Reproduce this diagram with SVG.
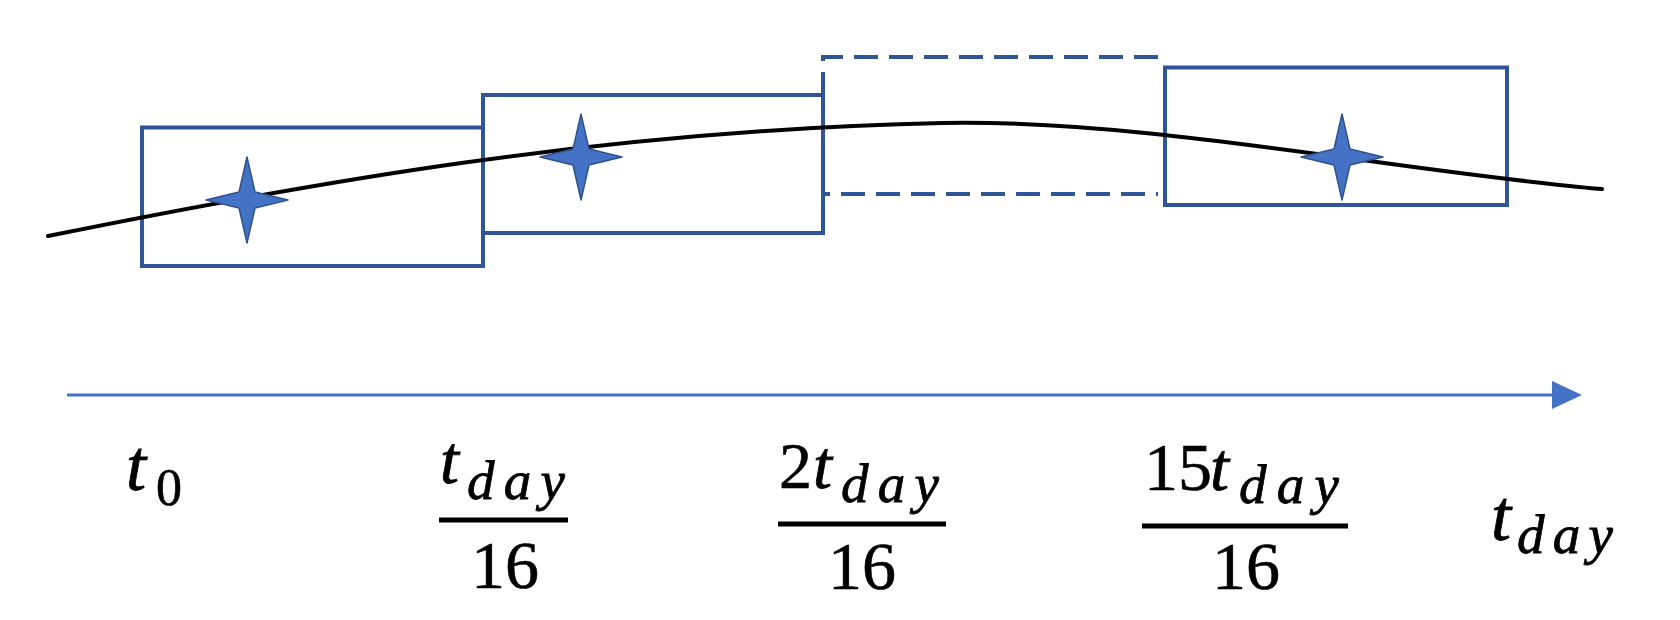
<svg xmlns="http://www.w3.org/2000/svg" width="1680" height="620" viewBox="0 0 1680 620">
  <style>
    .box { fill: none; stroke: #2F5597; stroke-width: 4; }
    .dash { fill: none; stroke: #2F5597; stroke-width: 4; stroke-dasharray: 24 11; }
    .curve { fill: none; stroke: #000000; stroke-width: 4; stroke-linecap: round; }
    .star { fill: #4472C4; stroke: #2F528F; stroke-width: 1.5; stroke-linejoin: round; }
    .axis { stroke: #4472C4; stroke-width: 3; fill: none; }
    .it { font-family: "Liberation Serif", "DejaVu Serif", serif; font-style: italic; fill: #000; stroke: #000; stroke-width: 0.8; }
    .num { font-family: "Liberation Serif", "DejaVu Serif", serif; fill: #000; stroke: #000; stroke-width: 0.6; }
    .bar { fill: #000; }
  </style>
  <defs>
    <path id="star4" d="M0,-43 L8,-8 L41,0 L8,8 L0,43 L-8,8 L-41,0 L-8,-8 Z"/>
  </defs>
  <rect width="1680" height="620" fill="#ffffff"/>

  <g id="box1"><rect class="box" x="142" y="127.5" width="341" height="138.5"/></g>
  <g id="box2"><rect class="box" x="483" y="95" width="340" height="138"/></g>
  <g id="box3"><path class="dash" d="M1158,57 H823 V194 H1158"/></g>
  <g id="box4"><rect class="box" x="1165" y="67.5" width="342" height="137.5"/></g>

  <g id="curve"><path class="curve" d="M48,236 C300,185 600,130 943,123 C1150,119 1400,172 1602,189"/></g>

  <g id="star1"><use href="#star4" class="star" transform="translate(247,200)"/></g>
  <g id="star2"><use href="#star4" class="star" transform="translate(581,157)"/></g>
  <g id="star4node"><use href="#star4" class="star" transform="translate(1342,157)"/></g>

  <g id="connectors">
    <line class="axis" x1="67" y1="395" x2="1554" y2="395"/>
    <polygon points="1552,381 1582,395 1552,409" fill="#4472C4"/>
  </g>

  <g id="label-t0">
    <text class="it" x="126" y="490" font-size="72">t</text>
    <text class="num" x="156" y="505" font-size="52">0</text>
  </g>

  <g id="label-frac1">
    <text class="it" x="440" y="483" font-size="68">t</text>
    <text class="it" x="467" y="499" font-size="55" textLength="98" lengthAdjust="spacing">day</text>
    <rect class="bar" x="439" y="517.5" width="129" height="5"/>
    <text class="num" x="505" y="588" font-size="68" text-anchor="middle">16</text>
  </g>

  <g id="label-frac2">
    <text class="num" x="779" y="488" font-size="66">2</text>
    <text class="it" x="813" y="488" font-size="68">t</text>
    <text class="it" x="841" y="502" font-size="55" textLength="98" lengthAdjust="spacing">day</text>
    <rect class="bar" x="778" y="521.5" width="168" height="5"/>
    <text class="num" x="862" y="589" font-size="68" text-anchor="middle">16</text>
  </g>

  <g id="label-frac3">
    <text class="num" x="1144" y="490" font-size="68">15</text>
    <text class="it" x="1210" y="490" font-size="68">t</text>
    <text class="it" x="1239" y="503" font-size="55" textLength="100" lengthAdjust="spacing">day</text>
    <rect class="bar" x="1142" y="523.5" width="206" height="5"/>
    <text class="num" x="1246" y="589" font-size="68" text-anchor="middle">16</text>
  </g>

  <g id="label-tday">
    <text class="it" x="1491" y="540" font-size="72">t</text>
    <text class="it" x="1517" y="553" font-size="55" textLength="96" lengthAdjust="spacing">day</text>
  </g>
</svg>
